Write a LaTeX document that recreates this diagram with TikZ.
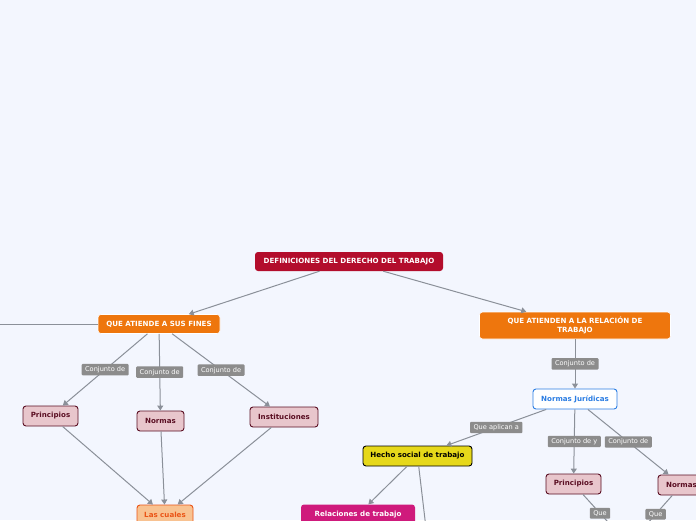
\documentclass[tikz,border=0pt]{standalone}
\usepackage{fontspec}
\setmainfont{DejaVu Sans}
\usepackage{xcolor}
\usetikzlibrary{arrows.meta, positioning}
\definecolor{Canvas}   {HTML}{F3F6FE}
\definecolor{Crimson}  {HTML}{B30D2C}
\definecolor{Tangerine}{HTML}{EE760D}
\definecolor{Rose}     {HTML}{E8C6CC}
\definecolor{Maroon}   {HTML}{5A0E22}
\definecolor{Peach}    {HTML}{F8C291}
\definecolor{Ember}    {HTML}{EA5416}
\definecolor{SkyBlue}  {HTML}{2B7DE3}
\definecolor{Lemon}    {HTML}{E6D81A}
\definecolor{Fuchsia}  {HTML}{CF1A7C}
\definecolor{Link}     {HTML}{8B9099}
\definecolor{Tag}      {HTML}{8C8C8C}
\tikzset{
  map arrow/.style={-{Triangle[length=5pt,width=6pt]}, line width=1pt, draw=Link},
  map line/.style={line width=1pt, draw=Link},
}

\begin{document}
\begin{tikzpicture}[x=1pt, y=-1pt,
    base/.style={rounded corners=3pt, align=center, inner sep=0pt,
                 font=\fontsize{7.1}{8.6}\selectfont\bfseries},
    title/.style={base, fill=Crimson, text=white, minimum width=188pt, minimum height=19pt},
    branch/.style={base, fill=Tangerine, text=white, draw=white, line width=0.6pt},
    concept/.style={base, fill=Rose, draw=Maroon, line width=0.9pt, text=Maroon,
                    minimum height=20pt},
    which/.style={base, fill=Peach, draw=Ember, line width=0.9pt, text=Ember,
                  minimum width=56pt, minimum height=20pt},
    legal/.style={base, fill=white, draw=SkyBlue, line width=0.9pt, text=SkyBlue,
                  minimum width=84pt, minimum height=20pt},
    fact/.style={base, fill=Lemon, draw=black, line width=0.9pt, text=black,
                 minimum width=109pt, minimum height=20pt},
    bond/.style={base, fill=Fuchsia, text=white, minimum width=114pt, minimum height=20pt},
    tag/.style={fill=Tag, text=white, rounded corners=1pt, inner xsep=3.5pt, inner ysep=2.5pt,
                font=\fontsize{6.6}{7.5}\selectfont}]
  % Canvas
  \fill[Canvas] (0,0) rectangle (696,520);
  \clip (0,0) rectangle (696,520);
  % Nodes
  \node[title]  (def)  at (349,261.5) {DEFINICIONES DEL DERECHO DEL TRABAJO};
  \node[branch, minimum width=122pt, minimum height=19pt] (fines) at (159,324) {QUE ATIENDE A SUS FINES};
  \node[branch, minimum width=191pt, minimum height=27pt, text width=160pt] (relac) at (575,325.5)
       {QUE ATIENDEN A LA RELACIÓN DE\\TRABAJO};
  \node[concept, minimum width=55pt] (princA) at (50.5,416) {Principios};
  \node[concept, minimum width=47pt] (normA)  at (160.5,421) {Normas};
  \node[concept, minimum width=68pt] (inst)   at (284,417) {Instituciones};
  \node[which] (cuales) at (165,515) {Las cuales};
  \node[legal] (njur)  at (575,399) {Normas Jurídicas};
  \node[fact]  (hecho) at (417.5,456) {Hecho social de trabajo};
  \node[concept, minimum width=55pt] (princB) at (573.5,484) {Principios};
  \node[concept, minimum width=47pt] (normB)  at (681.5,485) {Normas};
  \node[bond]  (rel)   at (358,514.5) {Relaciones de trabajo};
  % Loose ends leaving the view
  \coordinate (west)   at (-30,324);
  \coordinate (south)  at (428,545);
  \coordinate (queA)   at (617,532);
  \coordinate (queB)   at (639,533);
  % Arrows
  \draw[map arrow] (def) -- (fines);
  \draw[map arrow] (def) -- (relac);
  \draw[map line]  (fines) -- (west);
  \draw[map arrow] (fines) -- node[tag]{Conjunto de} (princA);
  \draw[map arrow] (fines) -- node[tag]{Conjunto de} (normA);
  \draw[map arrow] (fines) -- node[tag]{Conjunto de} (inst);
  \draw[map arrow] (princA) -- (cuales);
  \draw[map arrow] (normA) -- (cuales);
  \draw[map arrow] (inst) -- (cuales);
  \draw[map arrow] (relac) -- node[tag]{Conjunto de} (njur);
  \draw[map arrow] (njur) -- node[tag]{Que aplican a} (hecho);
  \draw[map arrow] (njur) -- node[tag]{Conjunto de y} (princB);
  \draw[map arrow] (njur) -- node[tag]{Conjunto de} (normB);
  \draw[map arrow] (hecho) -- (rel);
  \draw[map line]  (hecho) -- (south);
  \draw[map line]  (princB) -- node[tag]{Que} (queA);
  \draw[map line]  (normB) -- node[tag]{Que} (queB);
\end{tikzpicture}
\end{document}
